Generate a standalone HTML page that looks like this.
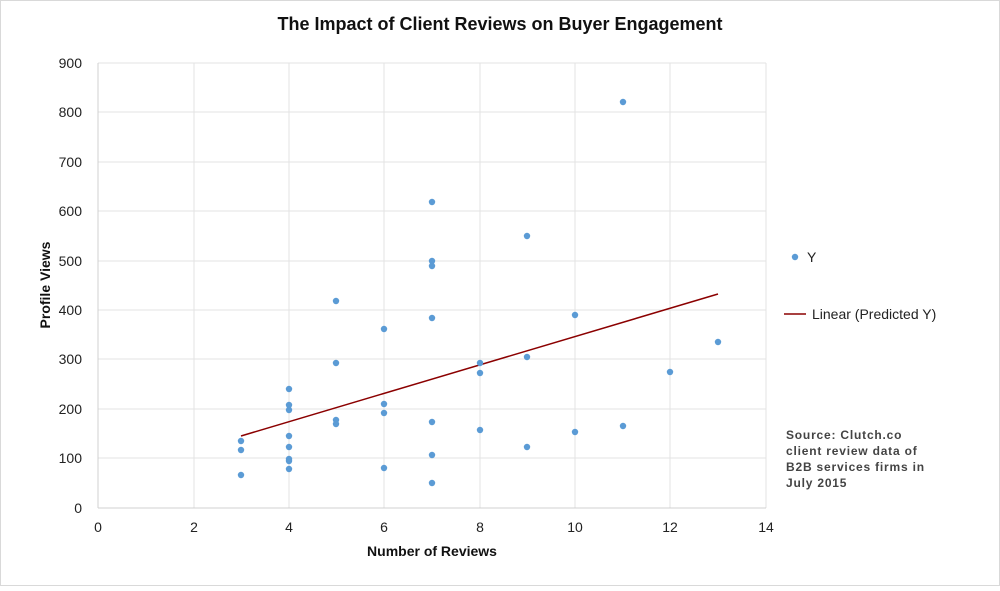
<!DOCTYPE html><html><head><style>body{margin:0;background:#fff}</style></head><body>
<svg width="1000" height="586" xmlns="http://www.w3.org/2000/svg" font-family="'Liberation Sans',sans-serif">
<rect x="0.5" y="0.5" width="999" height="585" fill="#fff" stroke="#d9d9d9"/>
<text x="500" y="30" text-anchor="middle" font-size="18" font-weight="bold" fill="#111">The Impact of Client Reviews on Buyer Engagement</text>
<g stroke="#e3e3e3" stroke-width="1">
<line x1="98" y1="63" x2="766" y2="63"/><line x1="98" y1="112" x2="766" y2="112"/><line x1="98" y1="162" x2="766" y2="162"/><line x1="98" y1="211" x2="766" y2="211"/><line x1="98" y1="261" x2="766" y2="261"/><line x1="98" y1="310" x2="766" y2="310"/><line x1="98" y1="359" x2="766" y2="359"/><line x1="98" y1="409" x2="766" y2="409"/><line x1="98" y1="458" x2="766" y2="458"/>
<line x1="194" y1="63" x2="194" y2="508"/><line x1="289" y1="63" x2="289" y2="508"/><line x1="384" y1="63" x2="384" y2="508"/><line x1="480" y1="63" x2="480" y2="508"/><line x1="575" y1="63" x2="575" y2="508"/><line x1="670" y1="63" x2="670" y2="508"/><line x1="766" y1="63" x2="766" y2="508"/>
</g>
<g stroke="#d0d0d0"><line x1="98" y1="508" x2="766" y2="508"/><line x1="98" y1="63" x2="98" y2="508"/></g>
<g font-size="14" fill="#222" text-anchor="end">
<text x="82" y="68">900</text><text x="82" y="117">800</text><text x="82" y="167">700</text><text x="82" y="216">600</text><text x="82" y="266">500</text><text x="82" y="315">400</text><text x="82" y="364">300</text><text x="82" y="414">200</text><text x="82" y="463">100</text><text x="82" y="513">0</text>
</g>
<g font-size="14" fill="#222" text-anchor="middle">
<text x="98" y="532">0</text><text x="194" y="532">2</text><text x="289" y="532">4</text><text x="384" y="532">6</text><text x="480" y="532">8</text><text x="575" y="532">10</text><text x="670" y="532">12</text><text x="766" y="532">14</text>
</g>
<text x="432" y="556" text-anchor="middle" font-size="14" font-weight="bold" fill="#111">Number of Reviews</text>
<text transform="translate(50,285) rotate(-90)" text-anchor="middle" font-size="14" font-weight="bold" fill="#111">Profile Views</text>
<line x1="241" y1="436" x2="718" y2="294" stroke="#8b0000" stroke-width="1.5"/>
<g fill="#5b9bd5">
<circle cx="241" cy="441" r="3.2"/><circle cx="241" cy="450" r="3.2"/><circle cx="241" cy="475" r="3.2"/>
<circle cx="289" cy="389" r="3.2"/><circle cx="289" cy="405" r="3.2"/><circle cx="289" cy="410" r="3.2"/><circle cx="289" cy="436" r="3.2"/><circle cx="289" cy="447" r="3.2"/><circle cx="289" cy="459" r="3.2"/><circle cx="289" cy="461" r="3.2"/><circle cx="289" cy="469" r="3.2"/>
<circle cx="336" cy="301" r="3.2"/><circle cx="336" cy="363" r="3.2"/><circle cx="336" cy="420" r="3.2"/><circle cx="336" cy="424" r="3.2"/>
<circle cx="384" cy="329" r="3.2"/><circle cx="384" cy="404" r="3.2"/><circle cx="384" cy="413" r="3.2"/><circle cx="384" cy="468" r="3.2"/>
<circle cx="432" cy="202" r="3.2"/><circle cx="432" cy="261" r="3.2"/><circle cx="432" cy="266" r="3.2"/><circle cx="432" cy="318" r="3.2"/><circle cx="432" cy="422" r="3.2"/><circle cx="432" cy="455" r="3.2"/><circle cx="432" cy="483" r="3.2"/>
<circle cx="480" cy="363" r="3.2"/><circle cx="480" cy="373" r="3.2"/><circle cx="480" cy="430" r="3.2"/>
<circle cx="527" cy="236" r="3.2"/><circle cx="527" cy="357" r="3.2"/><circle cx="527" cy="447" r="3.2"/>
<circle cx="575" cy="315" r="3.2"/><circle cx="575" cy="432" r="3.2"/>
<circle cx="623" cy="102" r="3.2"/><circle cx="623" cy="426" r="3.2"/>
<circle cx="670" cy="372" r="3.2"/><circle cx="718" cy="342" r="3.2"/>
<circle cx="795" cy="257" r="3.2"/>
</g>
<text x="807" y="262" font-size="14" fill="#222">Y</text>
<line x1="784" y1="314" x2="806" y2="314" stroke="#8b0000" stroke-width="1.5"/>
<text x="812" y="319" font-size="14" fill="#222">Linear (Predicted Y)</text>
<g font-size="12" font-weight="bold" fill="#444" letter-spacing="0.8">
<text x="786" y="439">Source: Clutch.co</text><text x="786" y="455">client review data of</text><text x="786" y="471">B2B services firms in</text><text x="786" y="487">July 2015</text>
</g>
</svg>
</body></html>
